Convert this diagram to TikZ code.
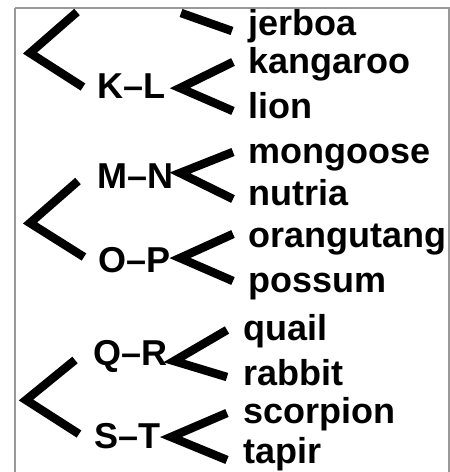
\documentclass[tikz,border=0pt]{standalone}
\usepackage{fontspec}
\setmainfont{Liberation Sans}
\begin{document}
\begin{tikzpicture}[x=1pt,y=-1pt,
  lbl/.style={font=\bfseries\fontsize{36}{36}\selectfont,inner sep=0pt,anchor=base west},
  br/.style={line width=8.5pt,line join=miter,line cap=butt,black},
  framebox/.style={draw=black!40,line width=1.5pt}]
\useasboundingbox (0,0) rectangle (450,472);
\draw[framebox] (15,8) -- (449,8) -- (449,490);
\draw[framebox] (15,8) -- (15,490);
% internal labels
\node[lbl] (kl) at (97,98) {K–L};
\node[lbl] (mn) at (97,188) {M–N};
\node[lbl] (op) at (98,272) {O–P};
\node[lbl] (qr) at (93,365) {Q–R};
\node[lbl] (st) at (94,448) {S–T};
% leaves
\node[lbl] (jerboa) at (248,35) {jerboa};
\node[lbl] (kangaroo) at (248,73) {kangaroo};
\node[lbl] (lion) at (248,118) {lion};
\node[lbl] (mongoose) at (248,163) {mongoose};
\node[lbl] (nutria) at (248,205) {nutria};
\node[lbl] (orangutang) at (248,247) {orangutang};
\node[lbl] (possum) at (248,292) {possum};
\node[lbl] (quail) at (243,340) {quail};
\node[lbl] (rabbit) at (243,385) {rabbit};
\node[lbl] (scorpion) at (243,423) {scorpion};
\node[lbl] (tapir) at (243,463) {tapir};
% bracket coordinates
\coordinate (v1) at (30,53);  \coordinate (a1) at (77,12);  \coordinate (b1) at (83,87);
\coordinate (a2) at (181,13); \coordinate (b2) at (232,31);
\coordinate (v3) at (180,88); \coordinate (a3) at (233,62); \coordinate (b3) at (233,111);
\coordinate (v4) at (30,223); \coordinate (a4) at (78,181); \coordinate (b4) at (84,257);
\coordinate (v5) at (180,173);\coordinate (a5) at (233,152);\coordinate (b5) at (233,199);
\coordinate (v6) at (180,258);\coordinate (a6) at (233,234);\coordinate (b6) at (233,281);
\coordinate (v7) at (26,400); \coordinate (a7) at (75,360); \coordinate (b7) at (79,434);
\coordinate (v8) at (174,361);\coordinate (a8) at (227,330);\coordinate (b8) at (227,377);
\coordinate (v9) at (171,437);\coordinate (a9) at (227,413);\coordinate (b9) at (227,460);
\draw[br] (a1) -- (v1) -- (b1);
\draw[br] (a2) -- (b2);
\draw[br] (a3) -- (v3) -- (b3);
\draw[br] (a4) -- (v4) -- (b4);
\draw[br] (a5) -- (v5) -- (b5);
\draw[br] (a6) -- (v6) -- (b6);
\draw[br] (a7) -- (v7) -- (b7);
\draw[br] (a8) -- (v8) -- (b8);
\draw[br] (a9) -- (v9) -- (b9);
\end{tikzpicture}
\end{document}
